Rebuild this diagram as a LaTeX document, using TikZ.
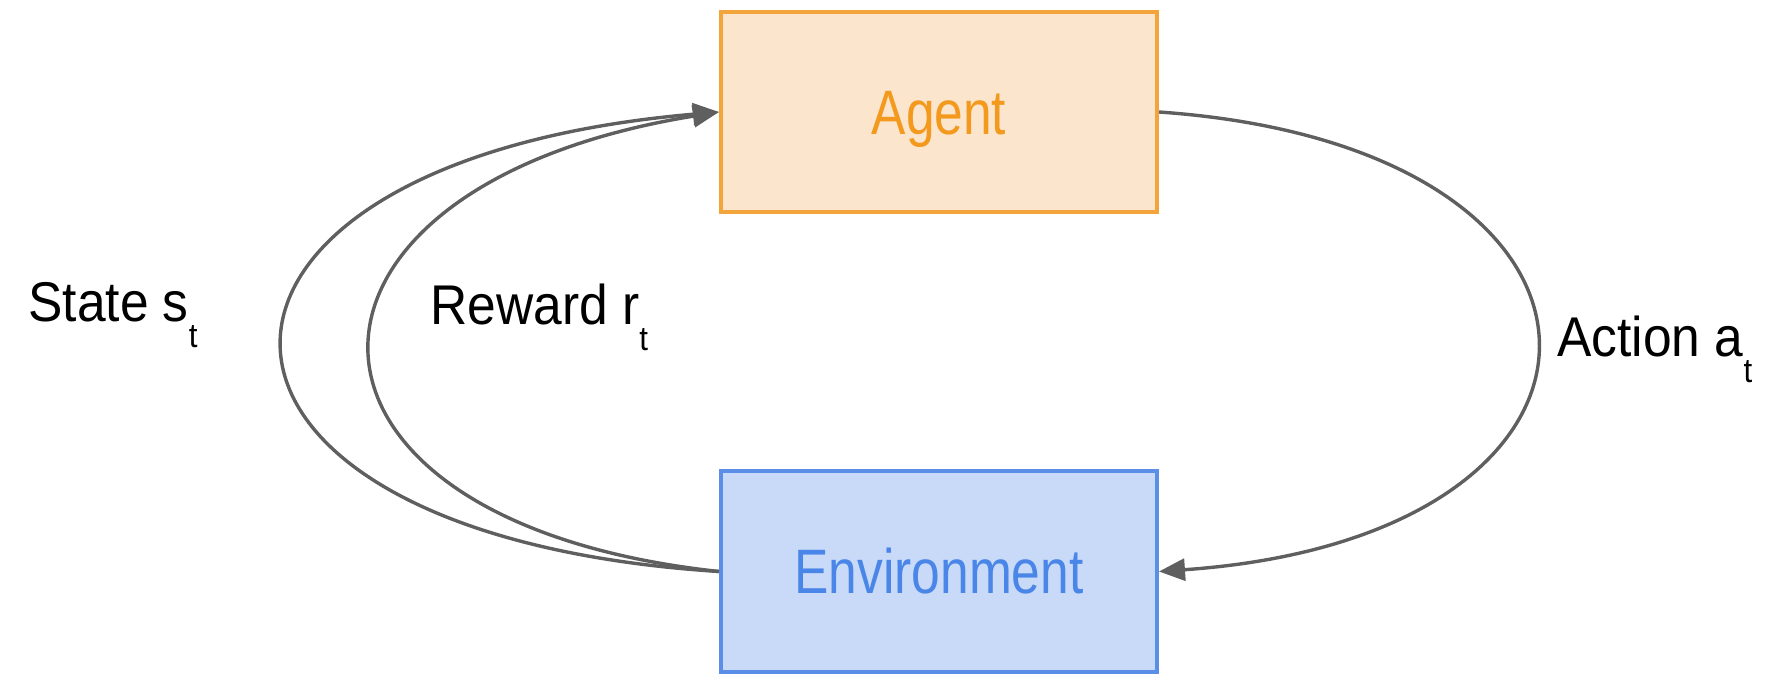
\documentclass[tikz,border=0pt]{standalone}
\usepackage{fontspec}
\usetikzlibrary{arrows.meta,calc}
\newfontfamily\boxfont[FakeStretch=0.82]{Liberation Sans}
\newfontfamily\labfont[FakeStretch=0.92]{Liberation Sans}
\definecolor{agentfill}{HTML}{FCE5CD}
\definecolor{agentdraw}{HTML}{F2A53A}
\definecolor{agenttext}{HTML}{F39A1E}
\definecolor{envfill}{HTML}{C9DAF8}
\definecolor{envdraw}{HTML}{5B8EE6}
\definecolor{envtext}{HTML}{4A86E8}
\definecolor{flow}{HTML}{5F5F5F}
\newcommand{\sublab}[1]{\raisebox{-0.45em}{\fontsize{17pt}{17pt}\selectfont #1}}
\begin{document}
\begin{tikzpicture}[x=0.5pt,y=-0.5pt,
  block/.style={draw, line width=2pt, minimum width=218pt, minimum height=100pt,
    inner sep=0pt, text height=22.5pt, text depth=0pt,
    font=\boxfont\fontsize{31.4pt}{31.4pt}\selectfont},
  lab/.style={inner sep=0pt, anchor=base west,
    font=\labfont\fontsize{28pt}{28pt}\selectfont},
  flowline/.style={draw=flow, line width=1.7pt,
    -{Triangle[length=13pt,width=11pt]}}]
\useasboundingbox (0,0) rectangle (1768,678);

% the two blocks
\node[block, fill=agentfill, draw=agentdraw, text=agenttext] (agent) at (939,112) {Agent};
\node[block, fill=envfill, draw=envdraw, text=envtext] (env) at (939,571.5) {Environment};

% action: agent -> environment, bending out to the right
\draw[flowline] (agent.east) .. controls ($(agent.east)+(503,35)$) and ($(env.east)+(503,-35)$) .. (env.east);

% state: environment -> agent, outer loop
\draw[flowline] (env.west) .. controls ($(env.west)+(-581,-37)$) and ($(agent.west)+(-581,50)$) .. (agent.west);

% reward: environment -> agent, inner loop
\draw[flowline] (env.west) .. controls ($(env.west)+(-464,-50)$) and ($(agent.west)+(-464,75)$) .. (agent.west);

% labels
\node[lab] (state) at (28,322) {State s\sublab{t}};
\node[lab] (reward) at (430,325) {Reward r\sublab{t}};
\node[lab] (action) at (1557,357) {Action a\sublab{t}};
\end{tikzpicture}
\end{document}
